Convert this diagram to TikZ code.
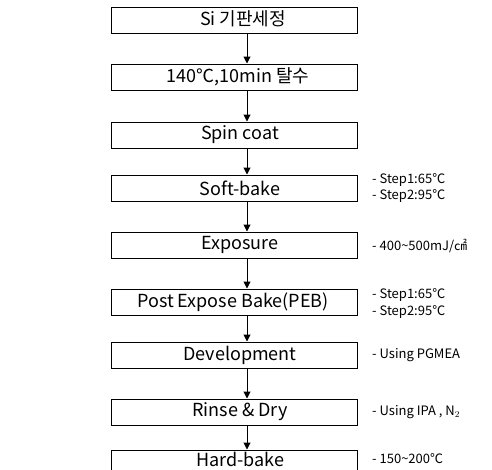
\documentclass[tikz,border=0pt]{standalone}
\usepackage{fontspec}
\setmainfont{Noto Sans CJK KR}
\usetikzlibrary{arrows.meta}
\begin{document}
\begin{tikzpicture}[x=1pt,y=-1pt,
  stepbox/.style={draw=black,line width=1pt,minimum width=246pt,minimum height=26pt,inner sep=0pt,anchor=center},
  boxtext/.style={font=\fontsize{18}{20}\selectfont},
  sidetext/.style={font=\fontsize{13}{15}\selectfont,anchor=west,inner sep=0pt},
  flow/.style={line width=1pt,-{Triangle[length=7pt,width=7pt]}}]
\useasboundingbox (0,0) rectangle (492,469);
\begin{scope}
\clip (0,0) rectangle (492,469);
\foreach \n/\y in {b1/20, b2/77, b3/135, b4/188, b5/245, b6/302, b7/355, b8/412, b9/463}
  \node[stepbox] (\n) at (234,\y) {};
\end{scope}
\node[boxtext] (t1) at (243,19) {Si 기판세정};
\node[boxtext] (t2) at (238,77) {140℃,10min 탈수};
\node[boxtext] (t3) at (240,135) {Spin coat};
\node[boxtext] (t4) at (240,188) {Soft-bake};
\node[boxtext] (t5) at (240,245) {Exposure};
\node[boxtext] (t6) at (233,302) {Post Expose Bake(PEB)};
\node[boxtext] (t7) at (240,355) {Development};
\node[boxtext] (t8) at (240,412) {Rinse \& Dry};
\node[boxtext] (t9) at (240,459) {Hard-bake};
\foreach \a/\b in {b1/b2,b2/b3,b3/b4,b4/b5,b5/b6,b6/b7,b7/b8,b8/b9}
  \draw[flow] (\a.south -| 247,0) -- (\b.north -| 247,0);
\node[sidetext] (s4a) at (372,180) {- Step1:65℃};
\node[sidetext] (s4b) at (372,196) {- Step2:95℃};
\node[sidetext] (s5) at (372,246) {- 400\textasciitilde500mJ/㎠};
\node[sidetext] (s6a) at (372,295) {- Step1:65℃};
\node[sidetext] (s6b) at (372,312) {- Step2:95℃};
\node[sidetext] (s7) at (372,355) {- Using PGMEA};
\node[sidetext] (s8) at (372,412) {- Using IPA , N$_2$};
\node[sidetext] (s9) at (372,459) {- 150\textasciitilde200℃};
\end{tikzpicture}
\end{document}
